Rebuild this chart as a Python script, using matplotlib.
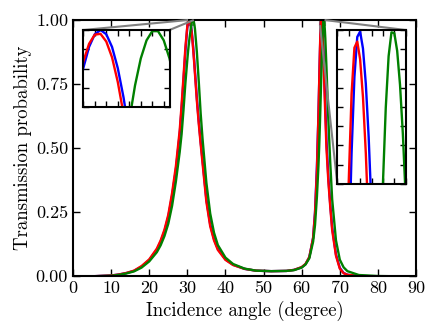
import numpy as np
import matplotlib
matplotlib.use('Agg')
import matplotlib.pyplot as plt
from matplotlib.ticker import MultipleLocator, FormatStrFormatter
from mpl_toolkits.axes_grid1.inset_locator import mark_inset

plt.rcParams['font.family'] = 'cmr10'
plt.rcParams['mathtext.fontset'] = 'cm'
plt.rcParams['axes.unicode_minus'] = False

# incidence angle (degree)
angle = [0, 5, 10, 12, 14, 16, 18, 20, 22, 23, 24, 25, 26, 27, 28, 28.5, 29, 29.5,
         30, 30.1, 30.2, 30.3, 30.4, 30.5, 30.6, 30.7, 30.8, 30.9, 31, 31.1, 31.2,
         31.3, 31.4, 31.5, 31.6, 31.7, 31.8, 31.9, 32, 32.5, 33, 33.5, 34, 35, 36,
         37, 38, 40, 42, 45, 48, 52, 56, 58, 60, 61, 62, 63, 63.5, 64, 64.4, 64.6,
         64.7, 64.8, 64.9, 64.95, 65, 65.05, 65.1, 65.15, 65.2, 65.25, 65.3, 65.35,
         65.4, 65.45, 65.5, 65.55, 65.6, 65.65, 65.7, 65.75, 65.8, 65.85, 65.9, 65.95,
         66, 66.05, 66.1, 66.2, 66.5, 67, 67.5, 68, 69, 70, 71, 72, 75, 80, 85, 90]

t_blue = [0, 0, 0.003, 0.0068, 0.0125, 0.021, 0.038, 0.063, 0.104, 0.135, 0.176, 0.232,
          0.314, 0.416, 0.555, 0.655, 0.765, 0.880,
          0.9730, 0.9825, 0.9901, 0.9956, 0.9989, 1.0000, 0.9989, 0.9956, 0.9901, 0.9825,
          0.9730, 0.9615, 0.9484, 0.9336, 0.9174, 0.9000, 0.8815, 0.8621, 0.8420, 0.8212,
          0.8000, 0.695, 0.605, 0.525, 0.452, 0.300, 0.203, 0.145, 0.107, 0.066, 0.045,
          0.029, 0.022, 0.020, 0.021, 0.025, 0.035, 0.047, 0.074, 0.150, 0.250, 0.4277,
          0.631, 0.7557,
          0.8187, 0.8781, 0.9299, 0.9516, 0.9698, 0.9840, 0.9939, 0.9991, 0.9998, 0.9976,
          0.9930, 0.9861, 0.9769, 0.9656, 0.9523, 0.9373, 0.9206, 0.9025, 0.8832, 0.8629,
          0.8418, 0.8200, 0.7978, 0.7753,
          0.7526, 0.7299, 0.7073, 0.6628, 0.530, 0.385, 0.280, 0.190, 0.085, 0.033,
          0.013, 0.006, 0.001, 0, 0, 0]

t_red = [0, 0, 0.003, 0.007, 0.013, 0.022, 0.040, 0.066, 0.108, 0.140, 0.182, 0.240,
         0.325, 0.430, 0.570, 0.670, 0.780, 0.895,
         0.9762, 0.9850, 0.9918, 0.9964, 0.9988, 0.9990, 0.9970, 0.9929, 0.9865, 0.9782,
         0.9678, 0.9557, 0.9419, 0.9265, 0.9099, 0.8920, 0.8731, 0.8534, 0.8330, 0.8121,
         0.7908, 0.685, 0.595, 0.515, 0.440, 0.290, 0.195, 0.140, 0.103, 0.064, 0.044,
         0.029, 0.022, 0.020, 0.021, 0.025, 0.036, 0.048, 0.075, 0.150, 0.245, 0.4135,
         0.628, 0.7616,
         0.8289, 0.8912, 0.9434, 0.9641, 0.9803, 0.9917, 0.9977, 0.9985, 0.9962, 0.9913,
         0.9840, 0.9743, 0.9624, 0.9484, 0.9326, 0.9151, 0.8963, 0.8761, 0.8549, 0.8332,
         0.8104, 0.7874, 0.7642, 0.7409,
         0.7176, 0.6945, 0.6717, 0.6271, 0.500, 0.370, 0.270, 0.180, 0.080, 0.030,
         0.012, 0.006, 0.001, 0, 0, 0]

t_green = [0, 0, 0.002, 0.0055, 0.011, 0.019, 0.034, 0.058, 0.094, 0.121, 0.157, 0.205,
           0.275, 0.370, 0.485, 0.555, 0.650, 0.755,
           0.845, 0.862, 0.878, 0.893, 0.907, 0.920, 0.932, 0.943, 0.954, 0.9653,
           0.9765, 0.9856, 0.9926, 0.9973, 0.9997, 0.9997, 0.9973, 0.9926, 0.9856, 0.9765,
           0.9653, 0.875, 0.760, 0.635, 0.535, 0.365, 0.245, 0.170, 0.122, 0.073, 0.048,
           0.030, 0.022, 0.020, 0.021, 0.024, 0.034, 0.046, 0.070, 0.135, 0.200, 0.311,
           0.430, 0.5085,
           0.553, 0.6008, 0.6517, 0.678, 0.7048, 0.732, 0.7593, 0.7865, 0.8134, 0.8397,
           0.8650, 0.8892, 0.9118, 0.9326, 0.9510, 0.9669, 0.9800, 0.9899, 0.9966, 0.9997,
           0.9996, 0.9973, 0.9929, 0.9865,
           0.9782, 0.9680, 0.9561, 0.9277, 0.8165, 0.610, 0.442, 0.300, 0.140, 0.065,
           0.035, 0.020, 0.005, 0.001, 0, 0]

fig = plt.figure(figsize=(4.37, 3.36), dpi=100)
ax = fig.add_axes([0.167, 0.1777, 0.785, 0.7628])


def draw_curves(a, lw=1.7):
    a.plot(angle, t_blue, color='b', lw=lw)
    a.plot(angle, t_red, color='r', lw=lw)
    a.plot(angle, t_green, color='g', lw=lw)


def style_ticks(a, length=5):
    a.tick_params(which='both', direction='in', top=True, right=True,
                  length=length, width=1, labelsize=13)
    for s in a.spines.values():
        s.set_linewidth(1.5)


draw_curves(ax)
ax.set_xlim(0, 90)
ax.set_ylim(0, 1)
ax.xaxis.set_major_locator(MultipleLocator(10))
ax.yaxis.set_major_locator(MultipleLocator(0.25))
ax.yaxis.set_major_formatter(FormatStrFormatter('%.2f'))
style_ticks(ax)
ax.set_xlabel('Incidence angle (degree)', fontsize=13.5, labelpad=3)
ax.set_ylabel('Transmission probability', fontsize=13.5, labelpad=3)

# inset around the first peak
ax1 = fig.add_axes([0.1906, 0.6815, 0.1973, 0.2292])
draw_curves(ax1)
ax1.set_xlim(30.2, 31.7)
ax1.set_ylim(0.98, 1.0)
ax1.xaxis.set_major_locator(MultipleLocator(0.2))
ax1.yaxis.set_major_locator(MultipleLocator(0.005))
style_ticks(ax1, 4)
ax1.set_xticklabels([])
ax1.set_yticklabels([])
mark_inset(ax, ax1, loc1=2, loc2=1, fc='none', ec='0.5', lw=1.5)

# inset around the second peak
ax2 = fig.add_axes([0.7719, 0.4524, 0.1565, 0.4583])
draw_curves(ax2)
ax2.set_xlim(64.8, 66.0)
ax2.set_ylim(0.98, 1.0)
ax2.xaxis.set_major_locator(MultipleLocator(0.2))
ax2.yaxis.set_major_locator(MultipleLocator(0.0025))
style_ticks(ax2, 4)
ax2.set_xticklabels([])
ax2.set_yticklabels([])
mark_inset(ax, ax2, loc1=1, loc2=3, fc='none', ec='0.5', lw=1.5)

fig.savefig('out.png', dpi=100)
